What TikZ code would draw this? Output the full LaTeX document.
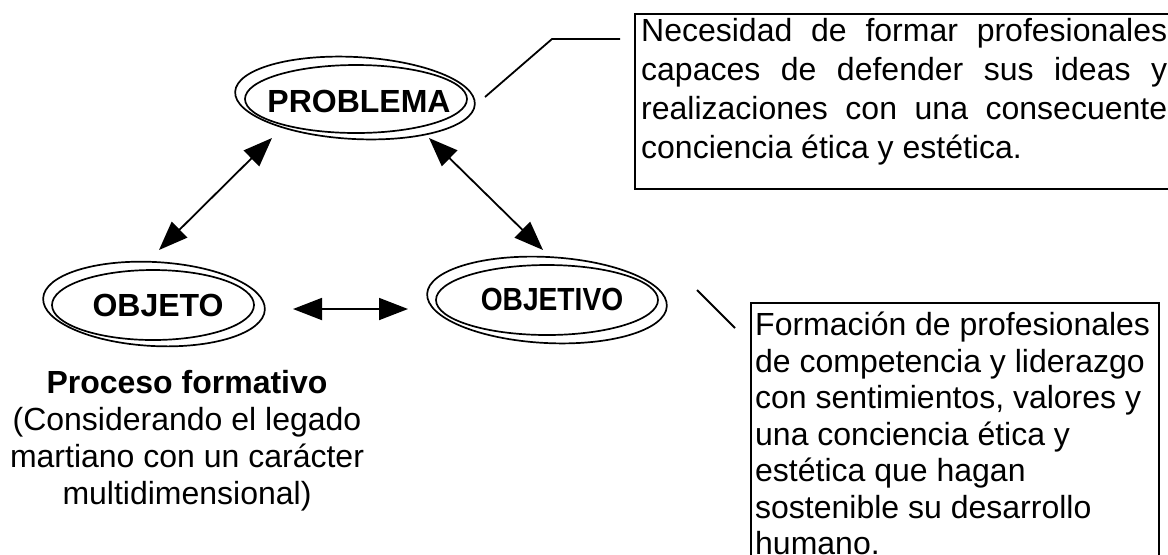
\documentclass[tikz,border=0pt]{standalone}
\usepackage{fontspec}
\setmainfont{Liberation Sans}
\usetikzlibrary{arrows.meta}

\begin{document}
\begin{tikzpicture}[x=0.5pt, y=-0.5pt,
  concepto/.style={font=\fontsize{16}{19}\selectfont\bfseries, inner sep=0pt},
  elipse/.style={draw=black, line width=0.85pt},
  flecha/.style={line width=0.9pt, {Triangle[length=14.5pt,width=11pt]}-{Triangle[length=14.5pt,width=11pt]}},
  linea/.style={line width=0.9pt},
  cuadro/.style={draw=black, line width=1.2pt, anchor=north west, inner xsep=3pt}]
  \useasboundingbox (0,0) rectangle (1168,554);
  \node [concepto] (Problema) at (359,101) {PROBLEMA};
  \node [concepto] (Objeto) at (158,305) {OBJETO};
  \node [concepto] (Objetivo) at (552,299) {\scalebox{0.88}[1]{OBJETIVO}};
  \draw [elipse] (Problema.center) ++(-4,-3) ellipse [x radius=60pt, y radius=20.5pt, rotate=-3];
  \draw [elipse] (Problema.center) ++(-3,-2) ellipse [x radius=55.5pt, y radius=17pt];
  \draw [elipse] (Objeto.center) ++(-4,-1) ellipse [x radius=55.5pt, y radius=21pt, rotate=-3];
  \draw [elipse] (Objeto.center) ++(-5,0) ellipse [x radius=50.5pt, y radius=17.5pt];
  \draw [elipse] (Objetivo.center) ++(-5,1) ellipse [x radius=60pt, y radius=21.5pt, rotate=-3];
  \draw [elipse] (Objetivo.center) ++(-5,1) ellipse [x radius=55.5pt, y radius=17.5pt];
  \node [cuadro, inner ysep=2pt, font=\fontsize{16}{19.5}\selectfont] (Necesidad) at (634,13)
    {\parbox[t][83.5pt][t]{263pt}{Necesidad de formar profesionales\linebreak capaces de defender sus ideas y\linebreak realizaciones con una consecuente\linebreak conciencia ética y estética.}};
  \node [cuadro, inner xsep=2pt, inner ysep=4.5pt, font=\fontsize{16}{18.25}\selectfont] (Formacion) at (750,302)
    {\parbox[t][130pt][t]{200pt}{\raggedright Formación de profesionales\\de competencia y liderazgo\\con sentimientos, valores y\\una conciencia ética y\\estética que hagan\\sostenible su desarrollo\\humano.}};
  \node [font=\fontsize{16}{18.5}\selectfont, align=center, anchor=north, inner sep=0pt] (Proceso) at (187,370)
    {\textbf{Proceso formativo}\\(Considerando el legado\\martiano con un carácter\\multidimensional)};
  \coordinate (pa) at (272,138);
  \coordinate (pb) at (429,138);
  \coordinate (oa) at (159,250);
  \coordinate (ob) at (293,309);
  \coordinate (va) at (543,250);
  \coordinate (vb) at (408,309);
  \coordinate (na) at (485,97);
  \coordinate (nb) at (552,39);
  \coordinate (fa) at (697,290);
  \coordinate (fb) at (735,328);
  \draw [flecha] (pa) -- (oa);
  \draw [flecha] (pb) -- (va);
  \draw [flecha] (ob) -- (vb);
  \draw [linea, shorten >=7pt] (na) -- (nb) -- (nb -| Necesidad.west);
  \draw [linea] (fa) -- (fb);
\end{tikzpicture}
\end{document}
